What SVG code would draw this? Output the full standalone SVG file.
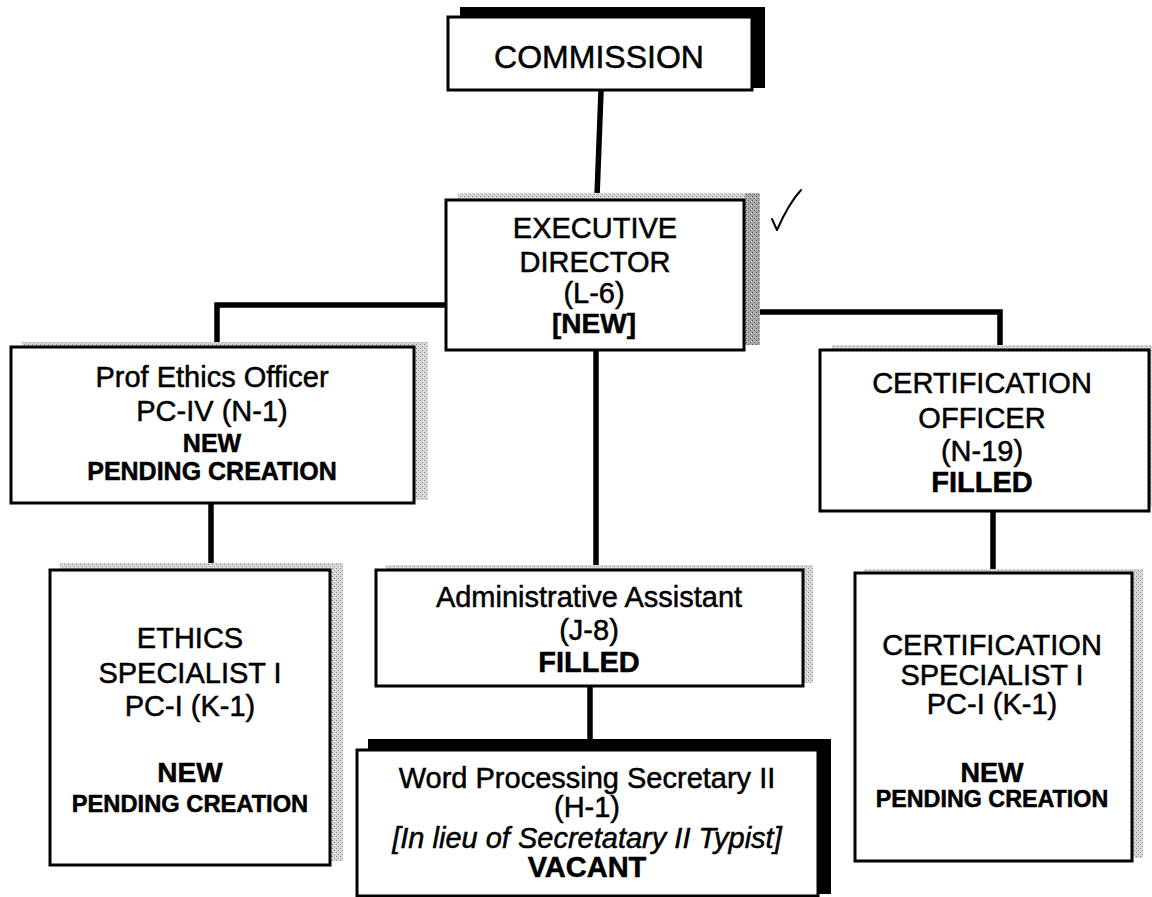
<svg xmlns="http://www.w3.org/2000/svg" width="1152" height="897" viewBox="0 0 1152 897">
<defs>
<pattern id="stip" width="4" height="4" patternUnits="userSpaceOnUse">
<rect width="4" height="4" fill="#d6d6d6"/>
<rect x="0" y="0" width="1" height="1" fill="#8a8a8a"/>
<rect x="2" y="2" width="1" height="1" fill="#9a9a9a"/>
<rect x="3" y="1" width="1" height="1" fill="#f0f0f0"/>
</pattern>
<pattern id="stipdark" width="4" height="4" patternUnits="userSpaceOnUse">
<rect width="4" height="4" fill="#a8a8a8"/>
<rect x="0" y="0" width="1" height="1" fill="#555"/>
<rect x="2" y="2" width="1" height="1" fill="#666"/>
<rect x="3" y="1" width="1" height="1" fill="#ddd"/>
</pattern>
</defs>
<style>
.box{fill:#fff;stroke:#000;stroke-width:3}
.sh{fill:url(#stip)}
.shd{fill:url(#stipdark)}
.shb{fill:#000}
.conn{fill:none;stroke:#000;stroke-width:5.5;stroke-linecap:butt;stroke-linejoin:miter}
text{font-family:"Liberation Sans",Arial,sans-serif;font-size:29px;fill:#000;stroke:#000;stroke-width:0.5;text-anchor:middle}
.b{font-weight:bold}
.i{font-style:italic}
</style>
<rect width="1152" height="897" fill="#fff"/>

<g id="connectors">
<path class="conn" d="M601,91 L597,196"/>
<path class="conn" d="M447,305 H217 V347"/>
<path class="conn" d="M745,312 H1000 V351"/>
<path class="conn" d="M596,350 V570"/>
<path class="conn" d="M211,503 V570"/>
<path class="conn" d="M993,511 V573"/>
<path class="conn" d="M590,686 V748"/>
</g>

<g id="commission">
<rect class="shb" x="460" y="7" width="305" height="81"/>
<rect class="box" x="448" y="17" width="304" height="73"/>
<text x="599" y="68" style="font-size:32px">COMMISSION</text>
</g>

<g id="executive-director">
<rect class="sh" x="458" y="193" width="302" height="8"/>
<rect class="shd" x="745" y="193" width="15" height="152"/>
<rect class="box" x="446" y="200" width="298" height="150"/>
<text x="595" y="238">EXECUTIVE</text>
<text x="595" y="272">DIRECTOR</text>
<text x="594" y="303">(L-6)</text>
<text x="594" y="333" class="b" style="font-size:28px">[NEW]</text>
</g>

<path d="M772,219 L777,230 C784,214 791,201 801,190" fill="none" stroke="#000" stroke-width="2" stroke-linecap="round" stroke-linejoin="round"/>

<g id="prof-ethics-officer">
<rect class="sh" x="22" y="342" width="406" height="158"/>
<rect class="box" x="11" y="347" width="403" height="156"/>
<text x="212" y="387">Prof Ethics Officer</text>
<text x="212" y="421">PC-IV (N-1)</text>
<text x="212" y="452" class="b" style="font-size:25px">NEW</text>
<text x="212" y="480" class="b" style="font-size:25px">PENDING CREATION</text>
</g>

<g id="certification-officer">
<rect class="sh" x="832" y="345" width="320" height="162"/>
<rect class="box" x="820" y="350" width="329" height="161"/>
<text x="982" y="393">CERTIFICATION</text>
<text x="982" y="428">OFFICER</text>
<text x="982" y="461">(N-19)</text>
<text x="982" y="492" class="b">FILLED</text>
</g>

<g id="ethics-specialist">
<rect class="sh" x="60" y="563" width="283" height="298"/>
<rect class="box" x="50" y="570" width="280" height="295"/>
<text x="190" y="648">ETHICS</text>
<text x="190" y="683">SPECIALIST I</text>
<text x="190" y="716">PC-I (K-1)</text>
<text x="190" y="782" class="b" style="font-size:28px">NEW</text>
<text x="190" y="812" class="b" style="font-size:23.7px">PENDING CREATION</text>
</g>

<g id="administrative-assistant">
<rect class="sh" x="386" y="565" width="427" height="118"/>
<rect class="box" x="376" y="570" width="427" height="116"/>
<text x="589" y="607">Administrative Assistant</text>
<text x="589" y="640">(J-8)</text>
<text x="589" y="672" class="b">FILLED</text>
</g>

<g id="word-processing-secretary">
<rect class="shb" x="368" y="739" width="463" height="155"/>
<rect class="box" x="357" y="750" width="461" height="146"/>
<text x="587" y="788">Word Processing Secretary II</text>
<text x="587" y="817">(H-1)</text>
<text x="587" y="848" class="i">[In lieu of Secretatary II Typist]</text>
<text x="587" y="877" class="b">VACANT</text>
</g>

<g id="certification-specialist">
<rect class="sh" x="864" y="569" width="279" height="289"/>
<rect class="box" x="855" y="573" width="277" height="288"/>
<text x="992" y="655">CERTIFICATION</text>
<text x="992" y="685">SPECIALIST I</text>
<text x="992" y="714">PC-I (K-1)</text>
<text x="992" y="782" class="b" style="font-size:27px">NEW</text>
<text x="992" y="807" class="b" style="font-size:23.3px">PENDING CREATION</text>
</g>
</svg>
